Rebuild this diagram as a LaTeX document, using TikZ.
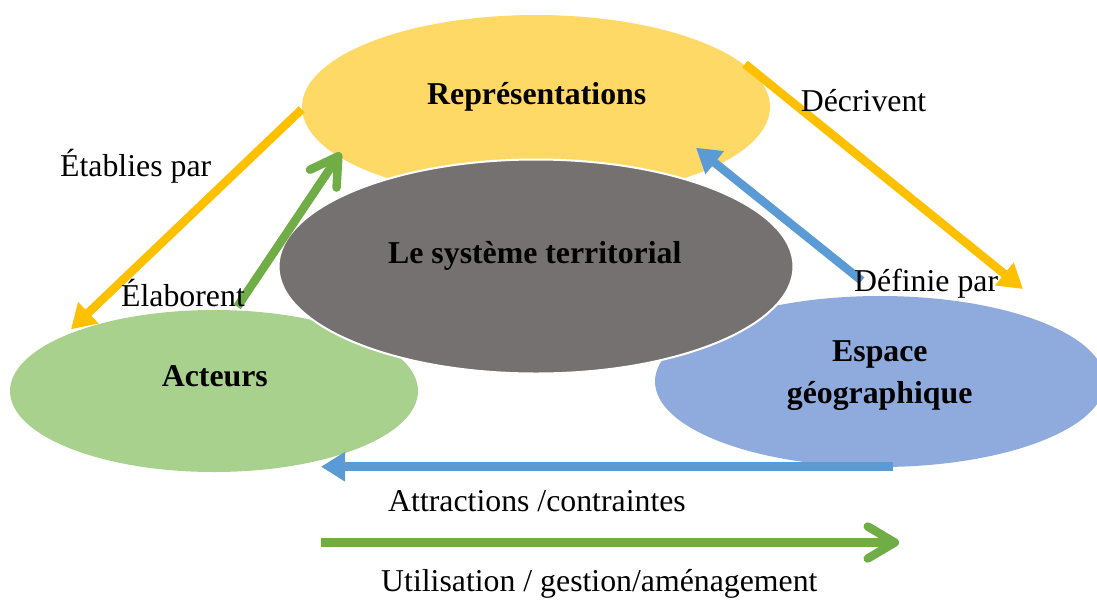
\documentclass[tikz,border=0pt]{standalone}
\usepackage{fontspec}
\setmainfont{Liberation Serif}
\usetikzlibrary{arrows.meta,shapes.geometric}
\definecolor{ellY}{HTML}{FFD966}
\definecolor{ellG}{HTML}{A9D18E}
\definecolor{ellB}{HTML}{8FAADC}
\definecolor{ellC}{HTML}{767171}
\definecolor{arY}{HTML}{FFC000}
\definecolor{arG}{HTML}{70AD47}
\definecolor{arB}{HTML}{5B9BD5}
\tikzset{
  ell/.style={ellipse, draw=none, inner sep=0pt},
  lbl/.style={inner sep=0pt, text=black},
  tri/.style={line width=8.5pt, -{Triangle[length=24pt,width=28pt]}},
  barb/.style={line width=8.5pt, -{Straight Barb[length=27pt,width=32pt,round]}}
}
\begin{document}
\begin{tikzpicture}[x=1pt,y=-1pt,font=\fontsize{31.8}{40}\selectfont]
\useasboundingbox (0,0) rectangle (1097,600);
% ellipses
\node[ell, fill=ellY, minimum width=468pt, minimum height=184pt] (rep) at (536,107) {};
\node[ell, fill=ellG, minimum width=408pt, minimum height=162pt] (act) at (214,391) {};
\node[ell, fill=ellB, minimum width=450pt, minimum height=171pt] (esp) at (880,381.5) {};
\node[ell, fill=ellC, draw=white, line width=2pt, minimum width=515pt, minimum height=214pt] (sys) at (536,266.5) {};
% ellipse texts
\node[lbl, anchor=base west] (trep) at (427,104) {\textbf{Représentations}};
\node[lbl, anchor=base west] (tsys) at (388,263) {\textbf{Le système territorial}};
\node[lbl, anchor=base west] (tact) at (161.7,386.7) {\textbf{Acteurs}};
\node[lbl, anchor=base west] (tesp1) at (832,361.7) {\textbf{Espace}};
\node[lbl, anchor=base west] (tesp2) at (786.7,403.3) {\textbf{géographique}};
% arrow endpoints
\coordinate (y1s) at (301.7,109.3);
\coordinate (y1e) at (71,329.3);
\coordinate (g1s) at (237.3,306.7);
\coordinate (g1e) at (340.7,152.7);
\coordinate (y2s) at (745,64);
\coordinate (y2e) at (1023,289);
\coordinate (b1s) at (861.7,280.7);
\coordinate (b1e) at (696,147.7);
\coordinate (b2s) at (893,466.7);
\coordinate (b2e) at (321,466.7);
\coordinate (g2s) at (321,542.5);
\coordinate (g2e) at (899,542.5);
% arrows
\draw[tri, arY] (y1s) -- (y1e);
\draw[tri, arY] (y2s) -- (y2e);
\draw[tri, arB] (b1s) -- (b1e);
\draw[tri, arB] (b2s) -- (b2e);
\draw[barb, arG] (g1s) -- (g1e);
\draw[barb, arG] (g2s) -- (g2e);
% labels
\node[lbl, anchor=base west] (l1) at (60,176.7) {Établies par};
\node[lbl, anchor=base west] (l2) at (121,306.7) {Élaborent};
\node[lbl, anchor=base west] (l3) at (800.7,111.7) {Décrivent};
\node[lbl, anchor=base west] (l4) at (854,291.7) {Définie par};
\node[lbl, anchor=base west] (l5) at (388,511.7) {Attractions /contraintes};
\node[lbl, anchor=base west] (l6) at (381,591.7) {Utilisation / gestion/aménagement};
\end{tikzpicture}
\end{document}
